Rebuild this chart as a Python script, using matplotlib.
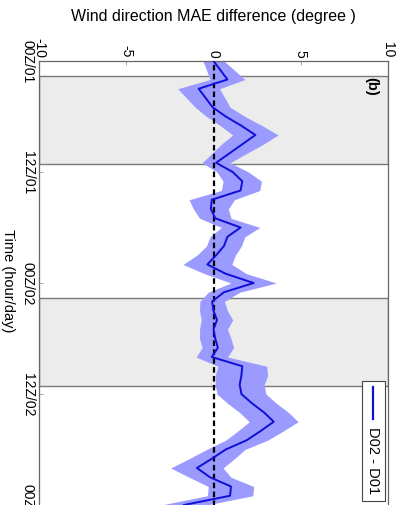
import numpy as np
import matplotlib.pyplot as plt
from matplotlib.patches import Rectangle
from matplotlib.lines import Line2D

plt.rcParams['axes.unicode_minus'] = False
plt.rcParams['font.family'] = ['Liberation Sans', 'DejaVu Sans']

# Hourly D02 - D01 difference in wind direction MAE (degree) and its spread
hours = np.arange(49)
mae_diff = np.array([
    0.0, 0.4, 0.8, -0.85, -0.45, -0.05, 0.7, 1.6, 2.4, 1.65, 0.9, 0.15,
    1.1, 1.65, 1.55, -0.1, -0.15, 0.1, 1.55, 0.8, 0.6, 0.15, -0.35, 0.7,
    2.3, 0.6, -0.08, 0.0, 0.2, 0.0, 0.1, 0.25, -0.1, 1.65, 1.6, 1.5,
    1.6, 2.2, 2.9, 3.45, 2.7, 1.9, 0.7, -0.1, -0.95, -0.2, 1.0, 0.95,
    -1.7])
spread = np.array([
    0.6, 0.8, 1.0, 1.2, 1.1, 1.0, 1.1, 1.2, 1.3, 1.2, 1.0, 0.8,
    0.9, 1.1, 1.1, 1.3, 1.0, 0.9, 1.1, 1.0, 1.0, 1.1, 1.4, 1.2,
    1.3, 0.9, 0.7, 0.8, 0.9, 0.8, 0.9, 0.9, 0.9, 1.4, 1.5, 1.4,
    1.4, 1.4, 1.4, 1.4, 1.3, 1.2, 1.1, 1.3, 1.5, 1.2, 1.3, 1.3,
    1.3])

# Shaded periods (hours from 00Z/01)
night_start = [1.6, 25.6]
night_end = [11.1, 35.1]

time_ticks = [0, 12, 24, 36, 48]
time_labels = ['00Z/01', '12Z/01', '00Z/02', '12Z/02', '00Z/03']
diff_ticks = [-10, -5, 0, 5, 10]
diff_labels = ['-10', '-5', '0', '5', '10']

W, H = 400, 506
fig = plt.figure(figsize=(W / 100, H / 100), dpi=100)
ax = fig.add_axes([39 / W, -6 / H, 349 / W, 450 / H])

for s, e in zip(night_start, night_end):
    ax.axhspan(s, e, facecolor='#ececec', edgecolor='#7a7a7a', lw=1.0, zorder=0)

ax.fill_betweenx(hours, mae_diff - spread, mae_diff + spread,
                 color='#9a9aff', lw=0, zorder=2)
ax.axvline(0, color='black', ls=(0, (2.5, 1.5)), lw=1.6, zorder=3)
ax.plot(mae_diff, hours, color='#0f0fd8', lw=1.4, zorder=4)

ax.set_xlim(-10, 10)
ax.set_ylim(450 / 9.25, 0)

ax.xaxis.tick_top()
ax.set_xticks(diff_ticks)
ax.set_xticklabels(diff_labels, rotation=-90, fontsize=10)
ax.set_yticks(time_ticks)
ax.set_yticklabels(time_labels, rotation=-90, va='center', fontsize=10)
ax.tick_params(direction='in', length=3, width=0.6, color='#999999', pad=3)
for sp in ax.spines.values():
    sp.set_color('#666666')
    sp.set_linewidth(0.9)

ax.set_ylabel('Time (hour/day)', rotation=-90, fontsize=10.5, va='center')
ax.yaxis.set_label_coords(-0.089, 0.513)

fig.text(213 / W, 1 - 17 / H, 'Wind direction MAE difference (degree )',
         ha='center', va='center', fontsize=11.5)

ax.text(371 / W, 1 - 86 / H, '(b)', transform=fig.transFigure, rotation=-90,
        ha='center', va='center', fontsize=10.5, fontweight='bold')

# Legend box drawn sideways to follow the rotated layout
fig.add_artist(Rectangle((362 / W, 1 - 502 / H), 23 / W, 120 / H,
                         transform=fig.transFigure, facecolor='white',
                         edgecolor='#444444', lw=0.8, zorder=5))
fig.add_artist(Line2D([373 / W, 373 / W], [1 - 388 / H, 1 - 420 / H],
                      transform=fig.transFigure, color='#0f0fd8', lw=1.6, zorder=6))
fig.text(373 / W, 1 - 461 / H, 'D02 - D01', rotation=-90, ha='center', va='center',
         fontsize=10.5, zorder=7)

fig.savefig('out.png', dpi=100)
